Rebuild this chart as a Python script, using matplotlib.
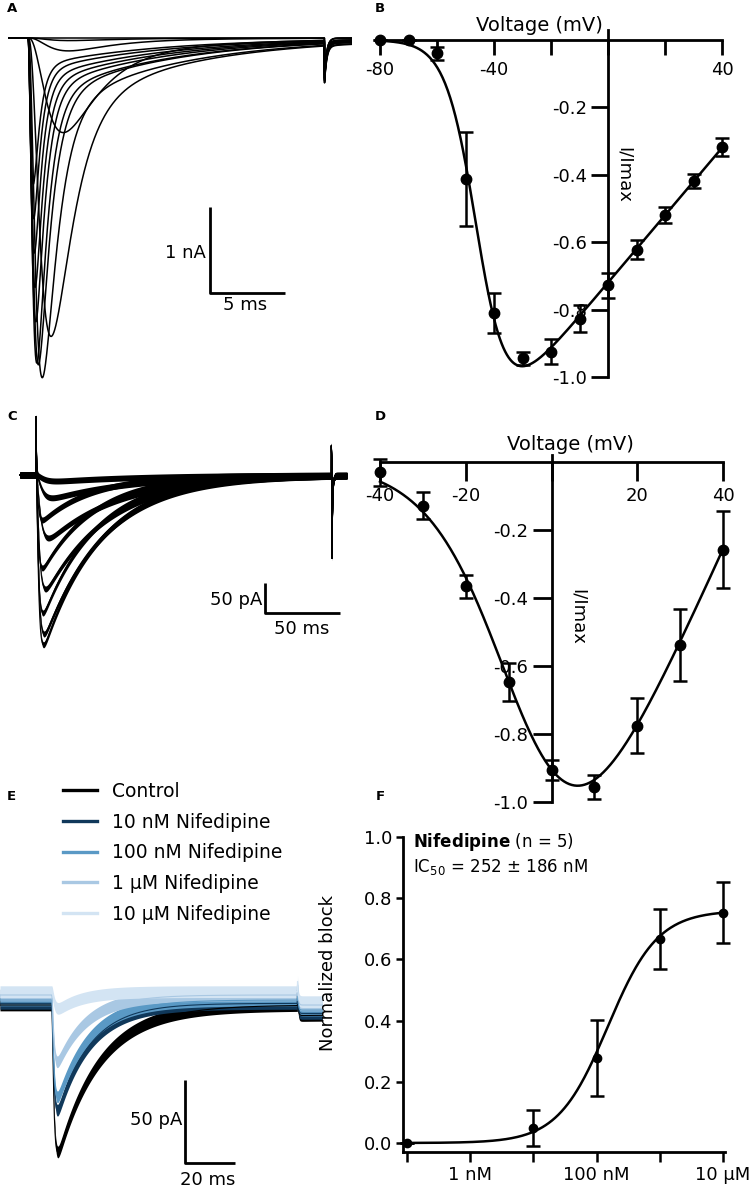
import numpy as np
import matplotlib
matplotlib.use("Agg")
import matplotlib.pyplot as plt
from matplotlib.lines import Line2D
from matplotlib.ticker import FixedLocator, LogLocator, NullFormatter

plt.rcParams['font.family'] = ['DejaVu Sans']

W, H = 749, 1190

# ---- A: Na current family (nA, ms), one trace per test voltage
a_volts = [-80, -70, -60, -50, -40, -30, -20, -10, 0, 10, 20, 30, 40]
a_peak = [0.0, 0.03, 0.15, 1.10, 3.47, 3.95, 3.80, 3.78, 3.30, 2.90, 2.50, 2.10, 1.70]
a_rise = [0.5, 1.3, 1.3, 1.2, 0.8, 0.45, 0.30, 0.25, 0.22, 0.20, 0.18, 0.16, 0.15]
a_decay = [1.0, 3.0, 2.8, 2.2, 1.35, 0.95, 0.80, 0.70, 0.62, 0.56, 0.50, 0.46, 0.42]
a_slow_frac = 0.07
a_slow_tau = 8.0
a_onset = 1.33
a_end = 22.93
a_artifact = [21.1, -0.43, 0.15]   # time, amplitude, tau

# ---- B: I/Imax vs voltage
b_volts = [-80, -70, -60, -50, -40, -30, -20, -10, 0, 10, 20, 30, 40]
b_mean = [0.0, 0.0, -0.04, -0.413, -0.81, -0.945, -0.925, -0.827, -0.728, -0.622, -0.52, -0.419, -0.317]
b_sem = [0.0, 0.0, 0.02, 0.14, 0.06, 0.02, 0.037, 0.04, 0.038, 0.028, 0.023, 0.021, 0.026]
b_fit = [0.0100, 72.0, -45.5, 5.3]   # g, Erev, V1/2, k

# ---- C: Ca current family (pA, ms)
c_volts = [-40, -30, -20, -10, 0, 10, 20, 30, 40]
c_peak = [10, 38, 105, 190, 265, 283, 230, 155, 75]
c_rise = [4.0, 3.0, 2.2, 1.6, 1.3, 1.2, 1.1, 1.0, 1.0]
c_decay = [60, 55, 48, 42, 40, 38, 36, 35, 34]
c_onset = 10.7
c_end = 218.0
c_artifacts = [[10.7, 97.0, 0.3], [207.6, 50.0, 0.3], [208.0, -150.0, 0.4]]
c_noise = 5.0

# ---- D: I/Imax vs voltage
d_volts = [-40, -30, -20, -10, 0, 10, 20, 30, 40]
d_mean = [-0.03, -0.128, -0.366, -0.647, -0.905, -0.955, -0.775, -0.538, -0.258]
d_sem = [0.04, 0.04, 0.035, 0.055, 0.03, 0.035, 0.08, 0.105, 0.113]
d_fit = [0.028, 49.2, -5.9, 9.1]

# ---- E: nifedipine traces (pA, ms)
e_labels = ['Control', '10 nM Nifedipine', '100 nM Nifedipine', '1 µM Nifedipine', '10 µM Nifedipine']
e_colors = ['#000000', '#10385a', '#5a99c5', '#a9c8e3', '#d3e4f3']
e_peak = [88, 64, 58, 40, 10]
e_rise = [0.6, 0.6, 0.6, 0.6, 0.8]
e_decay = [17, 13, 13, 12, 10]
e_offset = [-3, -2, 0, 3, 5]
e_onset = 20.7
e_end = 129.0
e_pulse_end = 119.0
e_tail_step = -6.0
e_noise = 3.5

# ---- F: concentration-response
f_conc = [0.1, 10, 100, 1000, 10000]   # nM
f_block = [0.0, 0.049, 0.279, 0.667, 0.753]
f_sem = [0.0, 0.058, 0.124, 0.098, 0.10]
f_fit = [0.76, 150.0, 1.1]   # top, IC50 (nM), Hill


def trace(t, onset, peak, tr, td, power, slow_frac=0.0, slow_tau=1.0):
    s = np.clip(t - onset, 0, None)
    w = (1 - np.exp(-s / tr)) ** power * ((1 - slow_frac) * np.exp(-s / td) + slow_frac * np.exp(-s / slow_tau))
    return -peak * w / w.max()


def transient(t, t0, amp, tau):
    s = t - t0
    out = np.zeros_like(t)
    m = s >= 0
    out[m] = amp * np.exp(-s[m] / tau)
    return out


def iv(v, p):
    g, erev, vh, k = p
    return g * (v - erev) / (1 + np.exp((vh - v) / k))


def px_axes(x0, y0, x1, y1):
    return fig.add_axes([x0 / W, 1 - y1 / H, (x1 - x0) / W, (y1 - y0) / H])


fig = plt.figure(figsize=(W / 100, H / 100), dpi=100)

# ================= A
ax = px_axes(8, 20, 352, 392)
ax.set_xlim(0, a_end)
ax.set_ylim(-(392 - 38) / 86, (38 - 20) / 86)
ax.axis('off')
t = np.arange(0, a_end, 0.01)
for pk, tr, td in zip(a_peak, a_rise, a_decay):
    y = trace(t, a_onset, pk, tr, td, 3, a_slow_frac, a_slow_tau)
    y = y + transient(t, *a_artifact)
    ax.plot(t, y, color='k', lw=1.1)
ax.plot([13.47, 13.47, 18.47], [-1.965, -2.965, -2.965], color='k', lw=2, solid_capstyle='butt')
ax.text(13.2, -2.5, '1 nA', ha='right', va='center', fontsize=13)
ax.text(15.8, -3.1, '5 ms', ha='center', va='center', fontsize=13)


def style_iv(ax, xticks, xlabels, ylen, xlen, ytop):
    for s in ['top', 'right']:
        ax.spines[s].set_visible(False)
    for s in ['bottom', 'left']:
        ax.spines[s].set_position(('data', 0))
        ax.spines[s].set_linewidth(2)
    ax.spines['bottom'].set_bounds(xticks[0], xticks[-1])
    ax.spines['left'].set_bounds(-1.0, ytop)
    ax.set_xticks(xticks)
    ax.set_xticklabels(xlabels)
    yt = [-1.0, -0.8, -0.6, -0.4, -0.2]
    ax.set_yticks(yt)
    ax.set_yticklabels(['%.1f' % v for v in yt])
    ax.tick_params(axis='x', direction='out', length=xlen, width=2, labelsize=13, pad=4)
    ax.tick_params(axis='y', direction='out', length=ylen, width=2, labelsize=13, pad=3)
    ax.patch.set_alpha(0)


# ================= B
ax = px_axes(370, 25, 735, 385)
ax.set_xlim(-80 - 10 / 2.85, 40 + 13 / 2.85)
ax.set_ylim(-(385 - 40) / 337, (40 - 25) / 337)
style_iv(ax, [-80, -60, -40, -20, 0, 20, 40], ['-80', '', '-40', '', '', '', '40'], 12, 11, 0.03)
v = np.linspace(-80, 40, 400)
ax.plot(v, iv(v, b_fit), color='k', lw=1.8)
ax.errorbar(b_volts, b_mean, yerr=b_sem, fmt='o', color='k', ms=7.5, capsize=5,
            elinewidth=1.8, capthick=1.8)
ax.text(-23.9, 0.044, 'Voltage (mV)', ha='center', va='center', fontsize=14)
ax.text(5.6, -0.40, 'I/Imax', rotation=270, ha='center', va='center', fontsize=13)

# ================= C
ax = px_axes(15, 405, 352, 660)
ax.set_xlim(-5 / 1.5, c_end + 5 / 1.5)
ax.set_ylim(-(660 - 475) / 0.6, (475 - 405) / 0.6)
ax.axis('off')
t = np.arange(0, c_end, 0.05)
for pk, tr, td in zip(c_peak, c_rise, c_decay):
    y = trace(t, c_onset, pk, tr, td, 2)
    for art in c_artifacts:
        y = y + transient(t, *art)
    ax.fill_between(t, y - c_noise, y + c_noise, color='k', lw=0)
    ax.plot(t, y, color='k', lw=0.8)
ax.plot([163.3, 163.3, 213.3], [-180, -230, -230], color='k', lw=2, solid_capstyle='butt')
ax.text(161.3, -208, '50 pA', ha='right', va='center', fontsize=13)
ax.text(188, -256.7, '50 ms', ha='center', va='center', fontsize=13)

# ================= D
ax = px_axes(368, 440, 738, 812)
ax.set_xlim(-40 - 12 / 4.29, 40 + 15 / 4.29)
ax.set_ylim(-(812 - 462) / 340, (462 - 440) / 340)
style_iv(ax, [-40, -20, 0, 20, 40], ['-40', '-20', '', '20', '40'], 14, 14, 0.02)
v = np.linspace(-40, 40, 400)
ax.plot(v, iv(v, d_fit), color='k', lw=1.8)
ax.errorbar(d_volts, d_mean, yerr=d_sem, fmt='o', color='k', ms=7.5, capsize=5,
            elinewidth=1.8, capthick=1.8)
ax.text(4.3, 0.05, 'Voltage (mV)', ha='center', va='center', fontsize=14)
ax.text(6.2, -0.456, 'I/Imax', rotation=270, ha='center', va='center', fontsize=13)

# ================= E
ax = px_axes(0, 950, 330, 1190)
ax.set_xlim(0, 330 / 2.5)
ax.set_ylim(-(1190 - 1000) / 1.67, (1000 - 950) / 1.67)
ax.axis('off')
t = np.arange(0, e_end, 0.05)
handles = []
for lab, col, pk, tr, td, off in zip(e_labels, e_colors, e_peak, e_rise, e_decay, e_offset):
    y = trace(t, e_onset, pk, tr, td, 2) + off
    y = y + np.where(t >= e_pulse_end, e_tail_step, 0) + transient(t, e_pulse_end, 12, 0.3)
    ax.fill_between(t, y - e_noise, y + e_noise, color=col, lw=0)
    ax.plot(t, y, color=col, lw=0.8)
    handles.append(Line2D([], [], color=col, lw=2.4, label=lab))
ax.plot([74, 74, 94], [-47.9, -97.6, -97.6], color='k', lw=2, solid_capstyle='butt')
ax.text(72.8, -71.9, '50 pA', ha='right', va='center', fontsize=13)
ax.text(83.2, -107.8, '20 ms', ha='center', va='center', fontsize=13)
fig.legend(handles=handles, loc='upper left', bbox_to_anchor=(63 / W, 1 - 782 / H),
           frameon=False, fontsize=13.5, handlelength=1.8, handletextpad=0.8,
           labelspacing=0.62, borderpad=0, borderaxespad=0)

# ================= F
ax = px_axes(403, 837, 725, 1152)
ax.set_xscale('log')
ax.set_xlim(10 ** (-1 - 4 / 63.2), 10 ** (4 + 2 / 63.2))
ax.set_ylim(-(1152 - 1143) / 306, 1.0)
for s in ['top', 'right']:
    ax.spines[s].set_visible(False)
for s in ['bottom', 'left']:
    ax.spines[s].set_linewidth(2)
ax.xaxis.set_major_locator(FixedLocator([0.1, 1, 10, 100, 1000, 10000]))
ax.set_xticklabels(['', '1 nM', '', '100 nM', '', '10 µM'])
ax.xaxis.set_minor_locator(LogLocator(base=10, subs=np.arange(2, 10)))
ax.xaxis.set_minor_formatter(NullFormatter())
ax.set_yticks([0.0, 0.2, 0.4, 0.6, 0.8, 1.0])
ax.set_yticklabels(['0.0', '0.2', '0.4', '0.6', '0.8', '1.0'])
ax.tick_params(axis='x', which='major', length=7, width=1.8, labelsize=13, pad=3)
ax.tick_params(axis='x', which='minor', length=4, width=1.4)
ax.tick_params(axis='y', length=5, width=1.8, labelsize=13, pad=3)
c = np.logspace(-1, 4, 400)
top, ic50, hill = f_fit
ax.plot(c, top / (1 + (ic50 / c) ** hill), color='k', lw=1.8)
ax.errorbar(f_conc, f_block, yerr=f_sem, fmt='o', color='k', ms=6, capsize=5,
            elinewidth=1.8, capthick=1.8, clip_on=False)
ax.set_ylabel('Normalized block', fontsize=13)
ax.yaxis.set_label_coords((337 - 403) / 322, (1152 - 973) / 315)
ax.text(0.031, 0.984, r'$\bf{Nifedipine}$ (n = 5)', transform=ax.transAxes,
        ha='left', va='center', fontsize=12)
ax.text(0.031, 0.905, 'IC$_{50}$ = 252 ± 186 nM', transform=ax.transAxes,
        ha='left', va='center', fontsize=12)

# panel letters
for lab, x, y in [('A', 12, 9), ('B', 380, 8), ('C', 12, 416), ('D', 380, 417), ('E', 11, 797), ('F', 380, 797)]:
    fig.text(x / W, 1 - y / H, lab, fontweight='bold', fontsize=9.5, ha='center', va='center')

fig.savefig('out.png', dpi=100)
